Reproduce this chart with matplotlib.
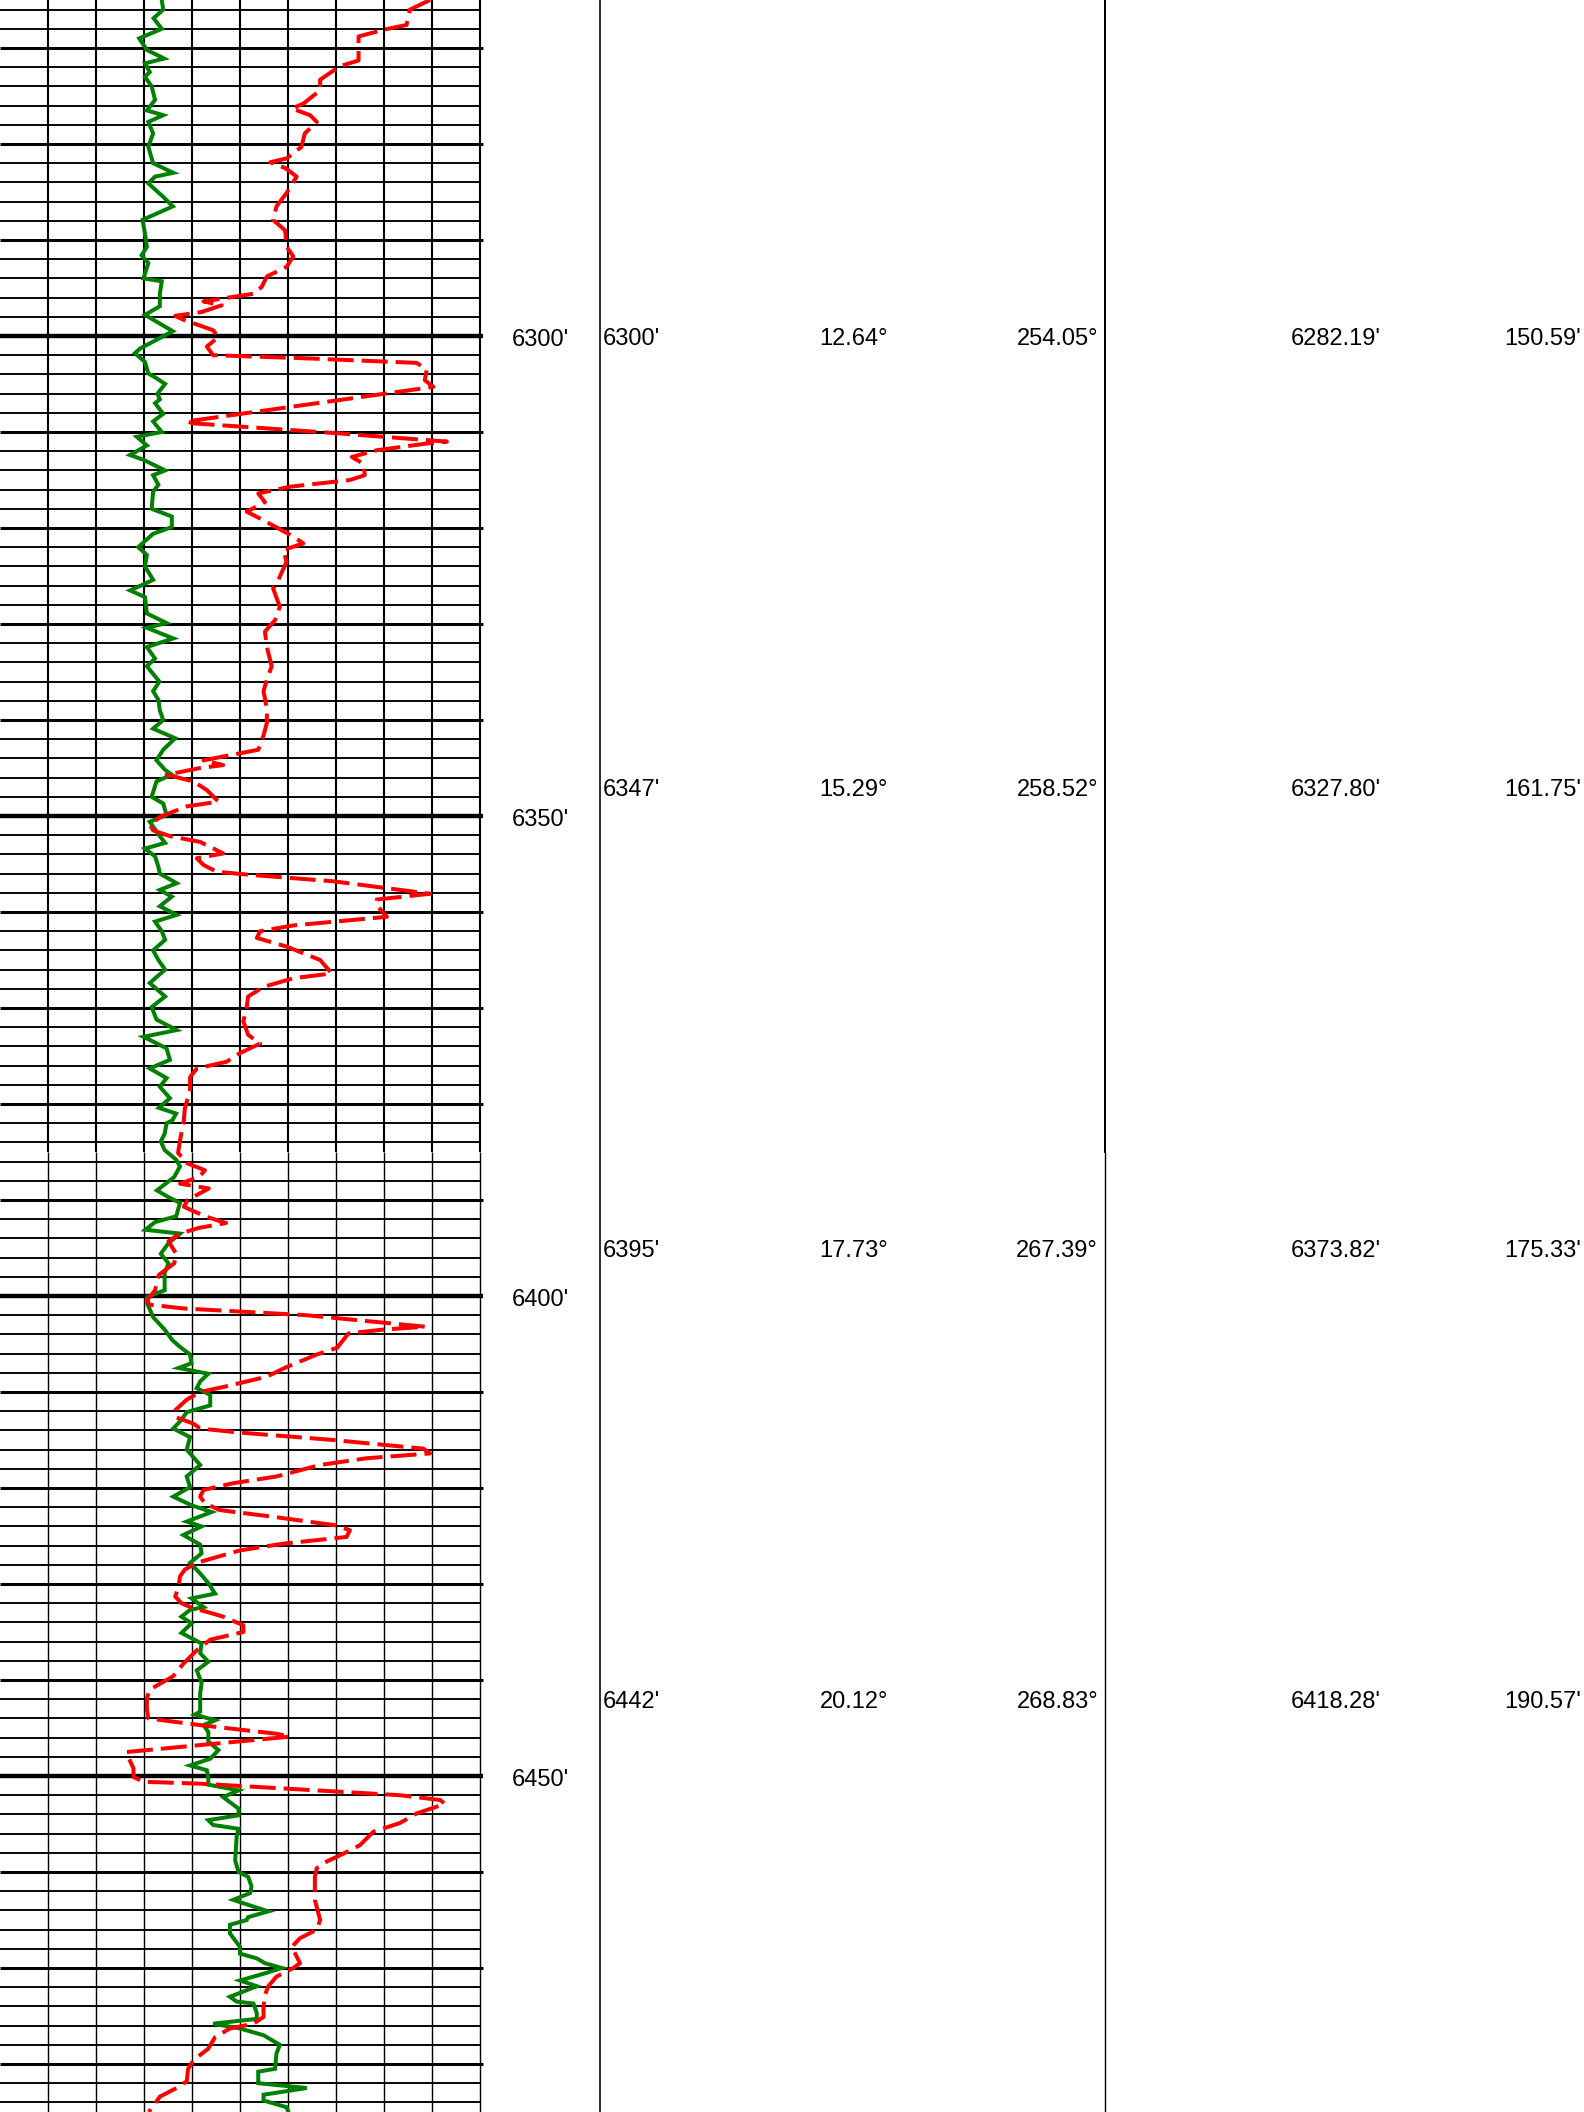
import matplotlib
matplotlib.use("Agg")
import matplotlib.pyplot as plt

plt.rcParams['font.family'] = ['Liberation Sans', 'DejaVu Sans']
plt.rcParams['lines.scale_dashes'] = False

# ---------------- data ----------------
TOP, BOTTOM = 6265.0, 6485.0
TILE_BREAK = 6385.0

gr_depth = [6265.0, 6266.0, 6266.9, 6268.0, 6269.0, 6270.2, 6271.1, 6271.6, 6272.5, 6273.0,
            6274.0, 6275.4, 6276.5, 6277.0, 6277.7, 6278.9, 6280.3, 6282.0, 6283.0, 6283.4,
            6284.1, 6285.5, 6286.5, 6287.9, 6289.3, 6290.7, 6291.6, 6292.4, 6294.0, 6294.3,
            6295.6, 6296.9, 6297.8, 6299.5, 6301.3, 6301.8, 6302.7, 6303.9, 6304.4, 6305.0,
            6306.0, 6306.6, 6307.0, 6308.1, 6308.9, 6310.0, 6310.5, 6311.4, 6312.4, 6312.9,
            6314.0, 6314.5, 6315.5, 6316.2, 6318.0, 6318.8, 6319.9, 6320.6, 6322.0, 6322.8,
            6324.0, 6325.4, 6325.8, 6326.5, 6327.2, 6328.9, 6329.9, 6330.4, 6331.5, 6332.4,
            6333.6, 6334.4, 6336.0, 6337.0, 6337.9, 6339.0, 6340.0, 6340.9, 6341.9, 6343.1,
            6344.2, 6345.2, 6345.7, 6346.4, 6348.0, 6348.7, 6349.9, 6350.6, 6352.1, 6352.8,
            6353.4, 6354.2, 6355.3, 6356.0, 6357.0, 6357.7, 6358.4, 6359.4, 6360.3, 6361.0,
            6362.0, 6362.9, 6364.0, 6365.0, 6366.0, 6367.4, 6368.8, 6369.9, 6371.2, 6372.3,
            6373.0, 6374.2, 6375.4, 6376.3, 6377.3, 6378.2, 6379.4, 6380.4, 6381.0, 6381.7,
            6382.0, 6383.1, 6383.9, 6384.8, 6385.8, 6386.5, 6387.6, 6389.0, 6389.7, 6390.3,
            6391.7, 6392.3, 6393.1, 6393.5, 6394.5, 6395.6, 6396.6, 6397.6, 6399.4, 6400.1,
            6400.8, 6402.2, 6403.5, 6404.6, 6405.3, 6406.1, 6407.0, 6407.5, 6408.1, 6408.9,
            6409.6, 6410.3, 6411.4, 6412.1, 6412.9, 6413.8, 6414.7, 6416.0, 6417.6, 6418.8,
            6419.9, 6420.9, 6421.8, 6422.5, 6423.5, 6424.0, 6424.9, 6425.9, 6426.8, 6427.8,
            6428.9, 6429.9, 6431.0, 6431.5, 6432.4, 6432.7, 6433.4, 6434.1, 6435.1, 6436.2,
            6437.2, 6438.1, 6439.0, 6440.3, 6441.4, 6443.3, 6443.6, 6444.2, 6444.7, 6445.4,
            6446.4, 6447.3, 6448.2, 6448.9, 6449.4, 6450.2, 6450.9, 6451.5, 6452.2, 6453.4,
            6454.1, 6454.6, 6455.1, 6455.5, 6456.3, 6458.8, 6460.0, 6460.5, 6461.5, 6462.2,
            6462.9, 6463.6, 6464.1, 6464.7, 6465.0, 6465.5, 6466.4, 6467.8, 6468.5, 6469.0,
            6469.5, 6470.0, 6470.6, 6471.3, 6471.9, 6473.0, 6473.5, 6473.7, 6474.7, 6475.3,
            6475.8, 6476.3, 6476.6, 6477.0, 6478.0, 6478.9, 6480.5, 6480.8, 6482.0, 6482.5,
            6483.2, 6483.8, 6484.5, 6485.0]
gr_value = [3.37, 3.40, 3.20, 3.37, 2.90, 3.06, 3.42, 3.02, 3.12, 3.02,
            3.16, 3.23, 3.06, 3.40, 3.09, 3.19, 3.09, 3.19, 3.61, 3.23,
            3.09, 3.40, 3.60, 2.97, 3.02, 3.06, 2.95, 3.09, 2.99, 3.37,
            3.33, 3.33, 3.02, 3.60, 2.92, 2.81, 3.02, 3.09, 3.26, 3.44,
            3.28, 3.33, 3.23, 3.40, 3.19, 3.37, 2.85, 3.06, 2.71, 2.99,
            3.44, 3.19, 3.30, 3.19, 3.16, 3.58, 3.58, 3.19, 2.88, 3.06,
            3.02, 3.19, 3.02, 2.71, 3.02, 3.06, 3.47, 3.06, 3.61, 3.06,
            3.23, 3.06, 3.32, 3.19, 3.30, 3.33, 3.40, 3.19, 3.65, 3.40,
            3.26, 3.44, 3.58, 3.26, 3.16, 3.40, 3.47, 3.12, 3.33, 3.44,
            3.02, 3.23, 3.30, 3.33, 3.68, 3.33, 3.58, 3.33, 3.68, 3.23,
            3.37, 3.44, 3.19, 3.30, 3.44, 3.12, 3.44, 3.16, 3.26, 3.68,
            2.99, 3.47, 3.54, 3.12, 3.47, 3.33, 3.54, 3.31, 3.67, 3.59,
            3.47, 3.43, 3.35, 3.43, 3.67, 3.75, 3.63, 3.27, 3.51, 3.75,
            3.67, 3.23, 3.03, 3.75, 3.51, 3.35, 3.51, 3.43, 3.43, 3.07,
            3.07, 3.19, 3.43, 3.59, 3.75, 3.96, 3.99, 3.72, 4.34, 4.17,
            4.10, 4.38, 4.38, 3.89, 3.78, 3.61, 3.96, 3.89, 4.17, 3.89,
            3.96, 3.61, 3.99, 4.41, 3.89, 4.20, 3.82, 4.17, 4.20, 3.96,
            4.17, 4.34, 4.48, 3.99, 4.24, 3.96, 3.78, 3.99, 3.78, 4.20,
            4.17, 4.34, 4.10, 4.20, 4.17, 4.17, 4.06, 4.48, 4.24, 4.34,
            4.34, 4.55, 4.38, 3.96, 4.31, 4.34, 4.34, 4.97, 4.65, 4.97,
            4.97, 4.34, 4.44, 4.97, 4.93, 4.90, 4.97, 5.17, 5.24, 5.21,
            4.86, 5.28, 5.59, 5.17, 5.14, 4.79, 4.79, 5.00, 5.00, 5.35,
            5.52, 5.87, 5.49, 5.00, 5.35, 4.79, 4.93, 5.28, 5.35, 5.35,
            4.44, 5.00, 5.21, 5.49, 5.83, 5.76, 5.73, 5.38, 5.38, 6.39,
            5.49, 5.49, 5.97, 6.01]

res_depth = [6265.0, 6266.0, 6267.6, 6268.1, 6268.8, 6269.9, 6271.3, 6271.9, 6273.3, 6274.4,
             6275.8, 6276.3, 6277.0, 6277.7, 6278.9, 6280.3, 6281.5, 6281.9, 6282.5, 6283.4,
             6285.1, 6286.5, 6287.9, 6289.0, 6290.7, 6291.7, 6292.8, 6293.8, 6294.9, 6295.6,
             6296.4, 6296.8, 6297.5, 6297.9, 6298.3, 6299.4, 6300.1, 6301.1, 6302.0, 6302.3,
             6302.8, 6303.5, 6304.6, 6305.3, 6308.9, 6309.1, 6310.1, 6311.0, 6311.2, 6311.9,
             6312.6, 6313.3, 6314.5, 6315.0, 6315.7, 6316.4, 6317.3, 6318.3, 6319.2, 6320.7,
             6321.6, 6322.3, 6323.5, 6325.4, 6326.3, 6328.2, 6329.6, 6330.8, 6332.4, 6334.4,
             6335.8, 6337.0, 6338.8, 6340.3, 6341.6, 6343.1, 6343.6, 6344.2, 6344.7, 6345.0,
             6345.7, 6346.4, 6347.3, 6348.5, 6349.0, 6350.1, 6350.9, 6351.5, 6352.1, 6352.7,
             6353.9, 6354.4, 6355.1, 6355.8, 6356.1, 6356.8, 6358.1, 6358.7, 6359.3, 6360.5,
             6361.4, 6362.0, 6362.7, 6363.6, 6365.0, 6366.4, 6366.9, 6367.8, 6368.8, 6369.9,
             6371.4, 6372.8, 6373.7, 6374.7, 6375.6, 6376.3, 6377.2, 6378.5, 6380.5, 6381.7,
             6383.8, 6385.1, 6386.2, 6386.9, 6387.6, 6388.3, 6388.8, 6390.0, 6390.7, 6391.7,
             6392.4, 6392.9, 6393.5, 6394.3, 6395.6, 6396.6, 6397.8, 6399.4, 6400.4, 6400.9,
             6401.3, 6402.0, 6403.2, 6403.5, 6403.9, 6405.4, 6406.1, 6407.4, 6408.4, 6408.9,
             6409.4, 6410.0, 6410.8, 6411.9, 6412.6, 6413.3, 6413.8, 6414.2, 6415.0, 6415.9,
             6416.4, 6416.9, 6417.6, 6418.8, 6419.5, 6420.2, 6420.9, 6421.6, 6422.3, 6423.0,
             6423.9, 6424.4, 6425.1, 6425.8, 6426.5, 6427.2, 6427.8, 6428.5, 6429.2, 6430.3,
             6431.3, 6432.0, 6432.4, 6433.4, 6434.3, 6435.0, 6435.8, 6436.9, 6438.3, 6439.6,
             6441.0, 6441.9, 6443.1, 6444.0, 6444.7, 6445.6, 6445.9, 6447.5, 6448.0, 6449.2,
             6450.1, 6450.6, 6450.8, 6452.0, 6452.5, 6452.9, 6453.9, 6454.9, 6455.8, 6457.2,
             6458.1, 6458.9, 6459.6, 6460.5, 6462.9, 6465.0, 6466.0, 6466.9, 6467.8, 6468.5,
             6469.5, 6470.0, 6470.9, 6471.9, 6472.8, 6474.0, 6475.1, 6475.8, 6476.3, 6477.2,
             6478.4, 6479.6, 6480.5, 6481.8, 6482.5, 6483.4, 6484.4, 6485.0]
res_value = [8.96, 8.54, 8.47, 7.99, 7.47, 7.47, 7.47, 7.08, 6.67, 6.67,
             6.32, 6.08, 6.46, 6.60, 6.35, 6.28, 5.97, 5.63, 5.94, 6.18,
             5.97, 5.76, 5.69, 5.94, 5.97, 6.11, 5.97, 5.56, 5.45, 5.28,
             4.24, 4.62, 4.20, 3.65, 3.82, 4.44, 4.55, 4.31, 4.44, 6.25,
             8.68, 8.89, 8.85, 9.03, 3.89, 4.03, 6.94, 9.31, 8.89, 7.85,
             7.33, 7.57, 7.60, 7.29, 6.04, 5.38, 5.52, 5.14, 5.49, 6.04,
             6.32, 5.90, 5.97, 5.80, 5.69, 5.83, 5.73, 5.52, 5.56, 5.66,
             5.56, 5.49, 5.56, 5.56, 5.49, 5.38, 4.86, 4.24, 4.65, 4.17,
             3.47, 4.03, 4.31, 4.55, 3.89, 3.33, 3.12, 3.19, 3.54, 4.17,
             4.65, 4.10, 4.24, 4.51, 5.14, 6.94, 8.96, 7.85, 7.85, 8.06,
             6.11, 5.42, 5.35, 5.97, 6.67, 6.91, 6.11, 5.49, 5.17, 5.14,
             5.07, 5.17, 5.42, 5.00, 4.72, 4.10, 3.96, 3.96, 3.85, 3.83,
             3.75, 3.71, 3.91, 4.27, 4.15, 3.75, 4.35, 3.91, 3.83, 4.27,
             4.71, 4.15, 3.75, 3.51, 3.67, 3.63, 3.31, 3.23, 3.07, 3.11,
             3.83, 6.38, 8.86, 7.98, 7.26, 7.02, 6.60, 5.97, 5.56, 5.14,
             4.72, 4.17, 3.89, 3.65, 3.65, 4.03, 4.17, 4.93, 6.94, 8.82,
             8.96, 7.64, 6.67, 5.76, 4.86, 4.24, 4.17, 4.27, 4.58, 5.69,
             7.01, 7.29, 7.22, 5.90, 5.00, 4.51, 4.10, 3.85, 3.75, 3.72,
             3.65, 3.78, 3.96, 4.65, 5.07, 5.07, 4.38, 4.10, 3.82, 3.61,
             3.12, 3.06, 3.06, 3.09, 4.17, 5.76, 6.04, 2.64, 2.67, 2.78,
             2.78, 2.99, 4.17, 8.33, 9.17, 9.27, 8.68, 8.33, 7.78, 7.50,
             7.15, 6.81, 6.60, 6.56, 6.56, 6.67, 6.60, 6.25, 6.08, 6.15,
             6.25, 6.11, 5.76, 5.59, 5.52, 5.49, 5.49, 5.28, 4.79, 4.48,
             4.34, 4.03, 3.92, 3.89, 3.68, 3.33, 3.19, 3.10]

depth_labels = [6300, 6350, 6400, 6450]

survey_md = [6300, 6347, 6395, 6442]
survey_inc = [12.64, 15.29, 17.73, 20.12]
survey_azi = [254.05, 258.52, 267.39, 268.83]
survey_tvd = [6282.19, 6327.80, 6373.82, 6418.28]
survey_vs = [150.59, 161.75, 175.33, 190.57]

# ---------------- figure ----------------
W, H = 1584, 2112
fig = plt.figure(figsize=(W / 100, H / 100), dpi=100)
PX = 0.72  # points per pixel at 100 dpi

track_w = 484
ax = fig.add_axes([0, 0, track_w / W, 1])
ax.set_xlim(0, 10 * track_w / 480)
ax.set_ylim(BOTTOM, TOP)
ax.axis('off')

# horizontal grid: every 2 ft thin, 10 ft thicker, 50 ft thickest
for d in range(6266, 6486, 2):
    if d % 50 == 0:
        ax.plot([0, 10.06], [d, d], color='black', lw=4.4 * PX, zorder=2,
                solid_capstyle='butt', clip_on=False)
    elif d % 10 == 0:
        ax.plot([0, 10.06], [d, d], color='black', lw=3.0 * PX, zorder=2,
                solid_capstyle='butt', clip_on=False)
    else:
        ax.plot([0, 10.0], [d, d], color='black', lw=1.9 * PX, zorder=1,
                solid_capstyle='butt')

# vertical grid (two image tiles with slightly different line weights)
for i in range(1, 11):
    ax.plot([i, i], [TOP, TILE_BREAK], color='black', lw=2.1 * PX, zorder=1,
            solid_capstyle='butt')
    ax.plot([i, i], [TILE_BREAK, BOTTOM], color='black', lw=1.4 * PX, zorder=1,
            solid_capstyle='butt')

ax.plot(gr_value, gr_depth, color='#008000', lw=4.0 * PX, zorder=4,
        solid_joinstyle='miter')
ax.plot(res_value, res_depth, color='#ff0000', lw=4.0 * PX, zorder=5,
        linestyle=(0, (26 * PX, 8 * PX)), dash_capstyle='butt')

# ---------------- right panel ----------------
rp = fig.add_axes([track_w / W, 0, 1 - track_w / W, 1])
rp.set_xlim(track_w, W)
rp.set_ylim(BOTTOM, TOP)
rp.axis('off')

rp.plot([600, 600], [TOP, BOTTOM], color='black', lw=1.6 * PX)
rp.plot([1105, 1105], [TOP, TILE_BREAK], color='black', lw=2.0 * PX)
rp.plot([1105, 1105], [TILE_BREAK, BOTTOM], color='black', lw=1.4 * PX)

fs = 17
for d in depth_labels:
    rp.text(540, d + 0.4, f"{d}'", ha='center', va='center', fontsize=fs)

for md, inc, azi, tvd, vs in zip(survey_md, survey_inc, survey_azi, survey_tvd, survey_vs):
    y = md + 0.3
    rp.text(603, y, f"{md}'", ha='left', va='center', fontsize=fs)
    rp.text(888, y, f"{inc:.2f}°", ha='right', va='center', fontsize=fs)
    rp.text(1098, y, f"{azi:.2f}°", ha='right', va='center', fontsize=fs)
    rp.text(1381, y, f"{tvd:.2f}'", ha='right', va='center', fontsize=fs)
    rp.text(1581, y, f"{vs:.2f}'", ha='right', va='center', fontsize=fs)

fig.savefig('out.png', dpi=100)
